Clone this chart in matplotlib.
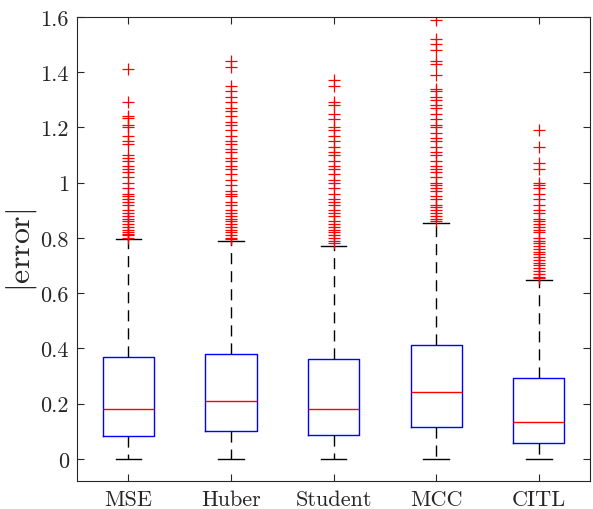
import numpy as np
import matplotlib.pyplot as plt

plt.rcParams['font.family'] = 'serif'
plt.rcParams['font.serif'] = ['cmr10']
plt.rcParams['mathtext.fontset'] = 'cm'
plt.rcParams['axes.formatter.use_mathtext'] = True

methods = ['MSE', 'Huber', 'Student', 'MCC', 'CITL']
q1 = [0.083, 0.101, 0.087, 0.116, 0.058]
med = [0.181, 0.210, 0.181, 0.243, 0.134]
q3 = [0.369, 0.380, 0.362, 0.413, 0.293]
whislo = [0.0, 0.0, 0.0, 0.0, 0.0]
whishi = [0.796, 0.789, 0.771, 0.854, 0.648]

out_mse = [1.41, 1.29, 1.24, 1.235, 1.21, 1.20, 1.17, 1.15, 1.14, 1.10, 1.09, 1.08,
           1.06, 1.05, 1.04, 1.02, 1.00, 0.98, 0.96, 0.95, 0.94, 0.93, 0.92, 0.90,
           0.89, 0.88, 0.87, 0.86, 0.85, 0.84, 0.83, 0.82, 0.815, 0.81, 0.80]
out_huber = [1.44, 1.42, 1.35, 1.33, 1.31, 1.29, 1.27, 1.26, 1.24, 1.22, 1.21, 1.19,
             1.17, 1.15, 1.14, 1.12, 1.11, 1.09, 1.08, 1.06, 1.05, 1.03, 1.01, 0.99,
             0.97, 0.96, 0.95, 0.93, 0.92, 0.90, 0.89, 0.88, 0.87, 0.86, 0.85, 0.84,
             0.83, 0.82, 0.81, 0.80, 0.795]
out_student = [1.37, 1.35, 1.29, 1.28, 1.25, 1.23, 1.20, 1.19, 1.17, 1.15, 1.13, 1.11,
               1.10, 1.08, 1.06, 1.05, 1.03, 1.01, 1.00, 0.98, 0.96, 0.94, 0.93, 0.92,
               0.90, 0.89, 0.88, 0.86, 0.85, 0.84, 0.83, 0.82, 0.81, 0.80, 0.79, 0.78]
out_mcc = [1.59, 1.52, 1.50, 1.48, 1.44, 1.43, 1.39, 1.34, 1.33, 1.31, 1.30, 1.28,
           1.27, 1.25, 1.23, 1.21, 1.20, 1.18, 1.16, 1.15, 1.13, 1.11, 1.10, 1.08,
           1.06, 1.05, 1.04, 1.02, 1.00, 0.99, 0.98, 0.97, 0.95, 0.94, 0.92, 0.91,
           0.90, 0.89, 0.88, 0.87, 0.86]
out_citl = [1.19, 1.13, 1.07, 1.05, 1.00, 0.99, 0.98, 0.96, 0.94, 0.92, 0.90, 0.89,
            0.87, 0.86, 0.85, 0.84, 0.83, 0.82, 0.80, 0.79, 0.78, 0.77, 0.76, 0.75,
            0.74, 0.73, 0.72, 0.71, 0.70, 0.69, 0.68, 0.67, 0.66, 0.655]
outliers = [out_mse, out_huber, out_student, out_mcc, out_citl]

stats = []
for i in range(len(methods)):
    stats.append({'label': methods[i], 'q1': q1[i], 'med': med[i], 'q3': q3[i],
                  'whislo': whislo[i], 'whishi': whishi[i], 'fliers': outliers[i]})

fig = plt.figure(figsize=(5.93, 5.10), dpi=100)
ax = fig.add_axes([0.130, 0.055, 0.865, 0.910])

ax.bxp(stats, widths=0.5, showfliers=True,
       boxprops=dict(color='blue', linewidth=1.0),
       medianprops=dict(color='red', linewidth=1.0),
       whiskerprops=dict(color='black', linewidth=1.0, linestyle=(0, (8, 5))),
       capprops=dict(color='black', linewidth=1.0),
       flierprops=dict(marker='+', markeredgecolor='red', markersize=8,
                       markeredgewidth=0.9, linestyle='none'),
       capwidths=0.25)

ax.set_xlim(0.5, 5.5)
ax.set_ylim(-0.08, 1.6)
ax.set_yticks([0, 0.2, 0.4, 0.6, 0.8, 1.0, 1.2, 1.4, 1.6])
ax.set_yticklabels(['0', '0.2', '0.4', '0.6', '0.8', '1', '1.2', '1.4', '1.6'])
ax.set_xticks(range(1, 6))
ax.set_xticklabels(methods)
ax.tick_params(direction='in', top=True, right=True, labelsize=16,
               colors='0.15', length=5, width=0.8)
ax.tick_params(axis='x', pad=6)
ax.tick_params(axis='y', pad=6)
for lab in ax.get_xticklabels() + ax.get_yticklabels():
    lab.set_color('0.15')
for s in ax.spines.values():
    s.set_color('0.15')
    s.set_linewidth(0.8)
ax.set_ylabel(r'$|\mathrm{error}|$', fontsize=23, color='0.15', labelpad=1)

plt.savefig('out.png', dpi=100)
